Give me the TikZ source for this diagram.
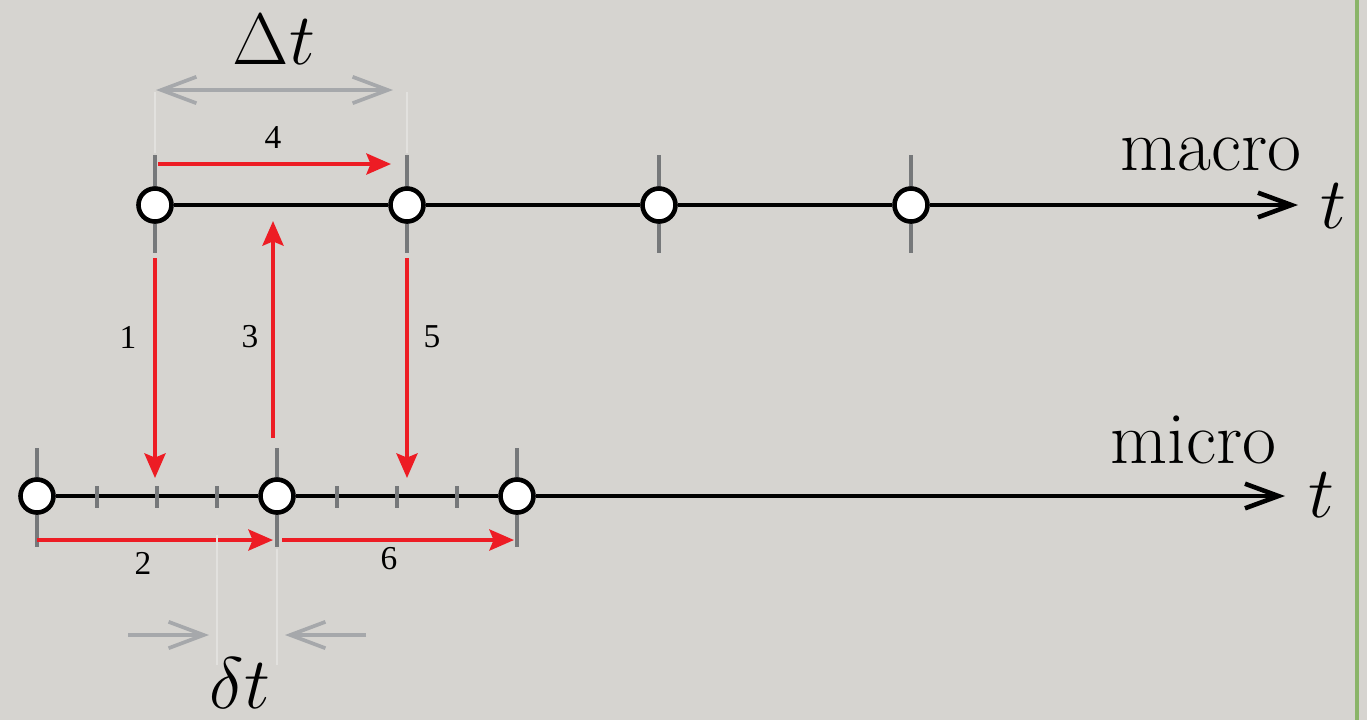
\documentclass[tikz,border=0pt]{standalone}
\usepackage{fontspec}
\newfontfamily\numfont{Liberation Serif}
\usetikzlibrary{arrows.meta}
\definecolor{paper}{RGB}{214,212,208}
\definecolor{stepred}{RGB}{237,28,36}
\definecolor{ticgray}{RGB}{118,120,122}
\definecolor{spangray}{RGB}{166,168,171}
\definecolor{edgegreen}{RGB}{138,180,104}
\definecolor{faint}{RGB}{226,225,222}

\begin{document}
\begin{tikzpicture}[x=0.01cm,y=-0.01cm,
  knot/.style={circle,draw=black,fill=white,line width=1.3pt,minimum size=0.33cm,inner sep=0pt},
  axisline/.style={black,line width=1.3pt},
  axisarrow/.style={axisline,-{Straight Barb[length=9.5pt,width=7pt]}},
  tic/.style={ticgray,line width=1.05pt},
  stepline/.style={stepred,line width=1.05pt,-{Stealth[length=7pt,width=6pt,inset=1.2pt]}},
  span/.style={spangray,line width=1.05pt,-{Straight Barb[length=10pt,width=7.5pt]}},
  dspan/.style={span,{Straight Barb[length=10pt,width=7.5pt]}-{Straight Barb[length=10pt,width=7.5pt]}},
  guide/.style={faint,line width=0.3pt},
  steplabel/.style={font=\numfont\fontsize{9.5}{11}\selectfont,inner sep=0pt},
  bigmath/.style={font=\fontsize{22}{26}\selectfont,inner sep=0pt,anchor=base},
  scalelabel/.style={font=\fontsize{21}{25}\selectfont,inner sep=0pt,anchor=base east}]

% page
\fill[paper] (0,0) rectangle (1367,720);
\useasboundingbox (0,0) rectangle (1367,720);
\draw[edgegreen,line width=1.2pt] (1357,0) -- (1357,720);

% macro time line
\draw[tic] (155,155) -- (155,253);
\draw[tic] (407,155) -- (407,253);
\draw[tic] (659,155) -- (659,253);
\draw[tic] (911,155) -- (911,253);
\node (M1) at (155,205) [knot] {};
\node (M2) at (407,205) [knot] {};
\node (M3) at (659,205) [knot] {};
\node (M4) at (911,205) [knot] {};
\coordinate (macroend) at (1298,205);
\draw[axisline] (M1) -- (M2) -- (M3) -- (M4);
\draw[axisarrow] (M4) -- (macroend);
\node (macro) at (1302,170) [scalelabel] {macro};
\node (tmacro) at (1320,228) [bigmath,anchor=base west] {$t$};

% micro time line
\draw[tic] (37,448) -- (37,547);
\draw[tic] (277,448) -- (277,547);
\draw[tic] (517,448) -- (517,547);
\node (m1) at (37,496) [knot] {};
\node (m2) at (277,496) [knot] {};
\node (m3) at (517,496) [knot] {};
\coordinate (microend) at (1285,496);
\draw[axisline] (m1) -- (m2) -- (m3);
\draw[axisarrow] (m3) -- (microend);
\draw[tic] (97,486) -- (97,508);
\draw[tic] (157,486) -- (157,508);
\draw[tic] (217,486) -- (217,508);
\draw[tic] (337,486) -- (337,508);
\draw[tic] (397,486) -- (397,508);
\draw[tic] (457,486) -- (457,508);
\node (micro) at (1277,463) [scalelabel] {micro};
\node (tmicro) at (1308,517) [bigmath,anchor=base west] {$t$};

% steps
\coordinate (s1a) at (155,258);  \coordinate (s1b) at (155,478);
\coordinate (s2a) at (37,540);   \coordinate (s2b) at (273,540);
\coordinate (s3a) at (273,438);  \coordinate (s3b) at (273,221);
\coordinate (s4a) at (158,164);  \coordinate (s4b) at (391,164);
\coordinate (s5a) at (407,258);  \coordinate (s5b) at (407,478);
\coordinate (s6a) at (282,540);  \coordinate (s6b) at (514,540);
\draw[stepline] (s1a) -- (s1b);
\draw[stepline] (s2a) -- (s2b);
\draw[stepline] (s3a) -- (s3b);
\draw[stepline] (s4a) -- (s4b);
\draw[stepline] (s5a) -- (s5b);
\draw[stepline] (s6a) -- (s6b);
\node (n1) at (128,337) [steplabel] {1};
\node (n2) at (143,563) [steplabel] {2};
\node (n3) at (250,337) [steplabel] {3};
\node (n4) at (273,137) [steplabel] {4};
\node (n5) at (432,337) [steplabel] {5};
\node (n6) at (389,559) [steplabel] {6};

% step sizes
\draw[guide] (155,92) -- (155,153);
\draw[guide] (407,92) -- (407,153);
\draw[guide] (217,535) -- (217,665);
\draw[guide] (277,549) -- (277,665);
\coordinate (Da) at (156,90);  \coordinate (Db) at (393,90);
\draw[dspan] (Da) -- (Db);
\node (Dt) at (274,64) [bigmath] {$\Delta t$};
\coordinate (da) at (128,635);  \coordinate (db) at (209,635);
\coordinate (dc) at (366,635);  \coordinate (dd) at (285,635);
\draw[span] (da) -- (db);
\draw[span] (dc) -- (dd);
\node (dt) at (240,708) [bigmath] {$\delta t$};
\end{tikzpicture}
\end{document}
